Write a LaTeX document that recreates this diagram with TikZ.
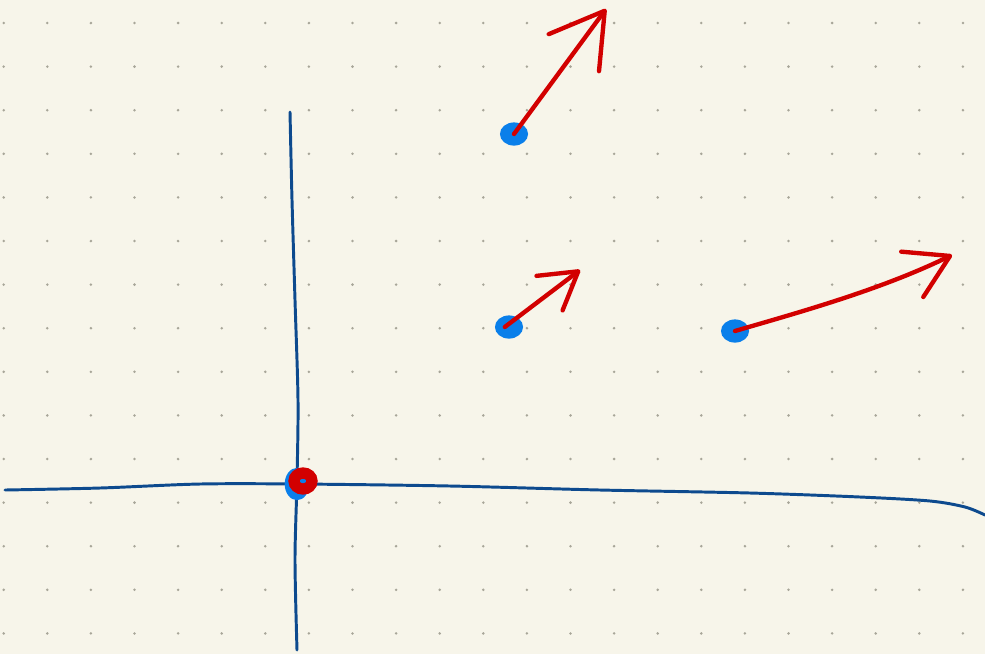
\documentclass[tikz,border=0pt]{standalone}
\usetikzlibrary{arrows.meta,shapes.geometric}

\definecolor{paper}{HTML}{F7F5EA}
\definecolor{griddot}{HTML}{A8A699}
\definecolor{axisblue}{HTML}{0D4A8E}
\definecolor{pointblue}{HTML}{0A7FEA}
\definecolor{vecred}{HTML}{D20000}

\tikzset{
  axisline/.style={axisblue, line width=2.1pt, line cap=round, smooth},
  ptdot/.style={ellipse, fill=pointblue, minimum width=20pt, minimum height=16.5pt, inner sep=0pt},
  vec/.style={vecred, line width=3.1pt, line cap=round, -{Straight Barb[round, length=#1, width=1.2*#1]}},
}

\begin{document}
\begin{tikzpicture}[x=0.025cm, y=-0.025cm]
  \fill[paper] (0,0) rectangle (985,654);
  \useasboundingbox (0,0) rectangle (985,654);

  % dotted paper
  \foreach \i in {0,...,22}
    \foreach \j in {0,...,14}
      \fill[griddot] (3.7+43.6*\i, 23+43.6*\j) circle (1pt);

  % axes
  \draw[axisline] plot coordinates {(290,112) (292,200) (295,300) (298,400) (297,480) (295,560) (297,650)};
  \draw[axisline] plot coordinates {(5,490) (100,488) (200,484) (300,484) (450,486) (600,490) (750,493) (860,497) (930,501) (965,507) (985,515)};

  % origin
  \node[ptdot, minimum width=17.5pt, minimum height=23pt] (o) at (297,484) {};
  \draw[vecred, line width=8pt] (303,481) ellipse (9 and 8);

  % points
  \node[ptdot] (p1) at (514,134) {};
  \node[ptdot] (p2) at (509,327) {};
  \node[ptdot] (p3) at (735,331) {};

  \coordinate (t1) at (606,9);
  \coordinate (t2) at (580,270);
  \coordinate (t3) at (952,255);

  % vectors
  \draw[vec=1.3cm] (p1.center) -- (t1);
  \draw[vec=0.9cm] ([xshift=-3pt]p2.center) -- (t2);
  \draw[vec=1.05cm] (p3.center) .. controls (800,312) and (880,290) .. (t3);
\end{tikzpicture}
\end{document}
